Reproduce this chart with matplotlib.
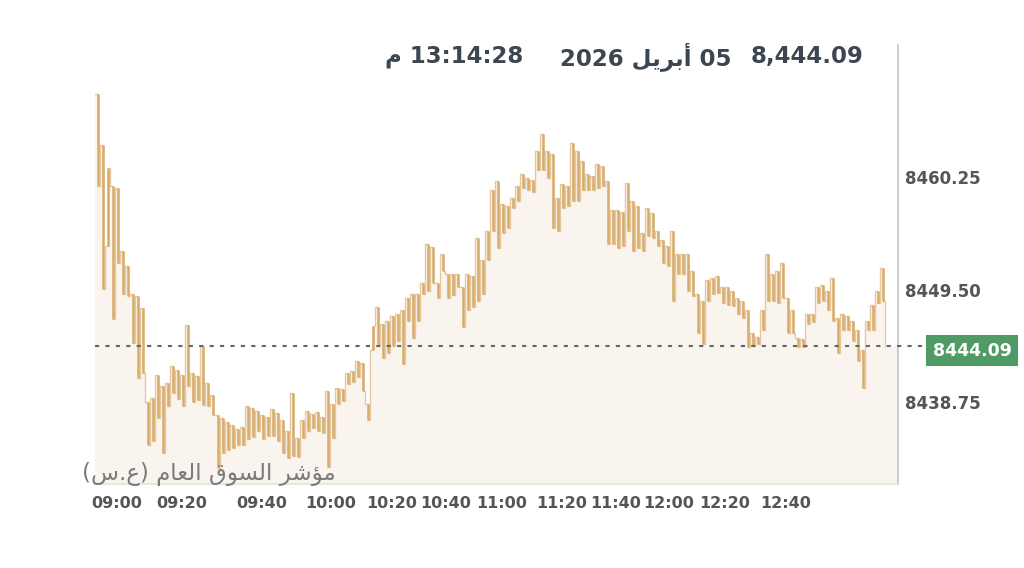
import numpy as np
import matplotlib
matplotlib.use("Agg")
import matplotlib.pyplot as plt

# ---------------- data ----------------
# index values in trading order (two readings per short interval)
index_values = [
    8468.2, 8459.4, 8463.3, 8449.6, 8453.7, 8461.1, 8459.4, 8446.7, 8459.2, 8452.0,
    8453.2, 8449.1, 8451.8, 8448.9, 8449.1, 8444.4, 8448.9, 8441.0, 8447.7, 8441.5,
    8438.7, 8434.6, 8439.1, 8435.0, 8441.3, 8437.2, 8440.3, 8433.9, 8440.6, 8438.4,
    8442.2, 8439.6, 8441.8, 8439.0, 8441.3, 8438.4, 8446.1, 8440.3, 8441.5, 8438.7,
    8441.2, 8438.9, 8444.1, 8438.5, 8440.6, 8438.4, 8439.4, 8437.5, 8437.5, 8432.4,
    8437.2, 8433.9, 8436.8, 8434.2, 8436.5, 8434.3, 8436.2, 8434.6, 8436.4, 8434.6,
    8438.4, 8435.2, 8438.2, 8435.4, 8437.9, 8436.0, 8437.5, 8435.2, 8437.3, 8435.5,
    8438.1, 8435.5, 8437.7, 8435.0, 8437.0, 8433.9, 8436.0, 8433.4, 8439.6, 8433.6,
    8435.3, 8433.5, 8437.0, 8435.3, 8437.9, 8436.0, 8437.6, 8436.3, 8437.8, 8436.0,
    8437.3, 8435.8, 8439.8, 8432.5, 8438.6, 8435.3, 8440.1, 8438.6, 8440.0, 8438.8,
    8441.5, 8440.5, 8441.7, 8440.7, 8442.7, 8441.1, 8442.5, 8439.8, 8438.6, 8437.0,
    8443.7, 8446.0, 8447.8, 8444.3, 8446.2, 8443.0, 8446.5, 8443.4, 8447.0, 8444.1,
    8447.2, 8444.6, 8447.5, 8442.4, 8448.7, 8446.5, 8449.1, 8444.9, 8449.1, 8446.5,
    8450.1, 8449.1, 8453.9, 8449.4, 8453.6, 8450.1, 8450.1, 8448.7, 8452.9, 8451.3,
    8451.0, 8448.7, 8451.0, 8449.0, 8451.0, 8449.7, 8449.7, 8445.9, 8451.0, 8447.5,
    8450.8, 8447.8, 8454.4, 8448.4, 8452.3, 8449.1, 8455.1, 8452.3, 8459.0, 8455.1,
    8459.9, 8453.5, 8457.7, 8454.9, 8457.5, 8455.4, 8458.3, 8457.3, 8459.4, 8458.0,
    8460.6, 8459.2, 8460.2, 8459.0, 8460.0, 8458.8, 8462.8, 8460.9, 8464.4, 8460.9,
    8462.8, 8460.2, 8462.5, 8455.4, 8458.3, 8455.1, 8459.6, 8457.3, 8459.4, 8457.5,
    8463.5, 8458.0, 8462.8, 8458.0, 8461.8, 8459.0, 8460.6, 8459.0, 8460.4, 8459.0,
    8461.5, 8459.2, 8461.3, 8459.4, 8459.9, 8453.9, 8457.1, 8453.9, 8457.1, 8453.5,
    8456.9, 8453.7, 8459.7, 8455.1, 8458.0, 8453.2, 8457.5, 8453.5, 8454.9, 8453.2,
    8457.3, 8454.6, 8456.8, 8454.4, 8455.1, 8453.7, 8454.2, 8452.0, 8453.7, 8451.8,
    8455.1, 8448.4, 8452.9, 8451.0, 8452.9, 8451.0, 8452.9, 8449.4, 8451.3, 8448.9,
    8449.1, 8445.3, 8448.4, 8444.3, 8450.4, 8448.4, 8450.6, 8449.1, 8450.8, 8449.2,
    8449.7, 8448.2, 8449.7, 8448.0, 8449.4, 8447.9, 8448.7, 8447.2, 8448.4, 8446.8,
    8447.5, 8444.0, 8445.3, 8444.1, 8445.0, 8444.3, 8447.5, 8445.6, 8452.9, 8448.4,
    8451.0, 8448.4, 8451.3, 8448.2, 8452.0, 8448.7, 8448.7, 8445.3, 8447.5, 8445.3,
    8444.9, 8444.0, 8444.8, 8444.0, 8447.2, 8446.2, 8447.2, 8446.4, 8449.7, 8448.2,
    8449.9, 8448.4, 8449.4, 8447.5, 8450.6, 8446.5, 8446.8, 8443.4, 8447.2, 8445.6,
    8447.0, 8445.6, 8446.5, 8444.6, 8445.6, 8442.7, 8443.7, 8440.1, 8446.5, 8445.6,
    8448.0, 8445.6, 8449.4, 8448.2, 8451.6, 8448.4, 8444.09,
]
last_value = 8444.09

# x-axis time labels and the trade-index position at which each appears
time_labels = ["09:00", "09:20", "09:40", "10:00", "10:20", "10:40",
               "11:00", "11:20", "11:40", "12:00", "12:20", "12:40"]
time_label_idx = [4.4, 17.4, 33.4, 47.2, 59.4, 70.2,
                  81.4, 93.4, 104.2, 114.8, 126.0, 138.2]

y_ticks = [8438.75, 8449.50, 8460.25]
y_tick_labels = ["8438.75", "8449.50", "8460.25"]

header_value = "8,444.09"
header_date = "2026 \uFEDE\uFEF3\uFEAE\uFE91\uFE83 05"          # 05 أبريل 2026 (visual order)
header_time = "\uFEE1 13:14:28"                                    # 13:14:28 م (visual order)
index_name = ("(\uFEB1.\uFEC9) \uFEE1\uFE8E\uFECC\uFEDF\uFE8D "
              "\uFED5\uFEEE\uFEB4\uFEDF\uFE8D \uFEAE\uFEB7\uFE86\uFEE3")  # مؤشر السوق العام (ع.س)

# ---------------- figure ----------------
W, H = 1024, 568
fig = plt.figure(figsize=(W / 100, H / 100), dpi=100)
fig.patch.set_facecolor("white")

def fx(px):
    return px / W

def fy(py):
    return 1 - py / H

ax_l, ax_r, ax_t, ax_b = 95, 898, 45, 484
ax = fig.add_axes([fx(ax_l), fy(ax_b), fx(ax_r - ax_l), (ax_b - ax_t) / H])

x = np.arange(len(index_values)) * 0.5
y = np.array(index_values)
xmax = 160.6
ax.set_xlim(0, xmax)
ax.set_ylim(8430.9, 8472.9)

fill_col = "#faf4ee"
xf = np.append(x, xmax)
yf = np.append(y, last_value)
ax.fill_between(xf, yf, 8400, step="post", color=fill_col, lw=0, zorder=1)

# thin connecting trace
ax.step(x, y, where="post", color="#e3c494", lw=1.0, alpha=0.9, zorder=3)
# denser price swings within each short interval, shown as thicker strokes
pairs = y[:-1].reshape(-1, 2)
xc = x[:-1].reshape(-1, 2)[:, 1]
ax.vlines(xc, pairs.min(axis=1), pairs.max(axis=1), color="#d3a25a", lw=2.0,
          alpha=0.75, zorder=4)

# reference line at last value
ax.axhline(last_value, color="#666666", lw=1.5, ls=(0, (2, 3)), zorder=5, clip_on=False,
           xmax=(xmax + 5.4) / xmax)

# spines
for s in ["top", "left"]:
    ax.spines[s].set_visible(False)
ax.spines["right"].set_color("#c9c9c9")
ax.spines["right"].set_linewidth(1.3)
ax.spines["bottom"].set_color("#e6e1dc")
ax.spines["bottom"].set_linewidth(1.2)
ax.set_facecolor("none")

ax.yaxis.tick_right()
ax.set_yticks(y_ticks)
ax.set_yticklabels(y_tick_labels)
ax.tick_params(axis="y", length=0, pad=5, labelsize=12, labelcolor="#555555")
for t in ax.get_yticklabels():
    t.set_fontweight("bold")

ax.set_xticks(time_label_idx)
ax.set_xticklabels(time_labels)
ax.tick_params(axis="x", length=0, pad=9, labelsize=11.5, labelcolor="#555555")
for t in ax.get_xticklabels():
    t.set_fontweight("bold")

# last value badge
fig.text(fx(972), fy(350.5), "8444.09", ha="center", va="center", color="white",
         fontsize=12.5, fontweight="bold",
         bbox=dict(boxstyle="square,pad=0.35", fc="#4f9a65", ec="none"))

# header
hdr_col = "#3c4650"
fig.text(fx(863), fy(57), header_value, ha="right", va="center", fontsize=16.5,
         fontweight="bold", color=hdr_col, family=["DejaVu Sans"])
fig.text(fx(731), fy(57), header_date, ha="right", va="center", fontsize=16.5,
         fontweight="bold", color=hdr_col, family=["DejaVu Sans"])
fig.text(fx(523), fy(57), header_time, ha="right", va="center", fontsize=16.5,
         fontweight="bold", color=hdr_col, family=["DejaVu Sans"])

# index name
fig.text(fx(82), fy(474), index_name, ha="left", va="center", fontsize=16.5,
         color="#7a7a7a", family=["DejaVu Sans"])

fig.savefig("out.png", dpi=100, facecolor="white")
